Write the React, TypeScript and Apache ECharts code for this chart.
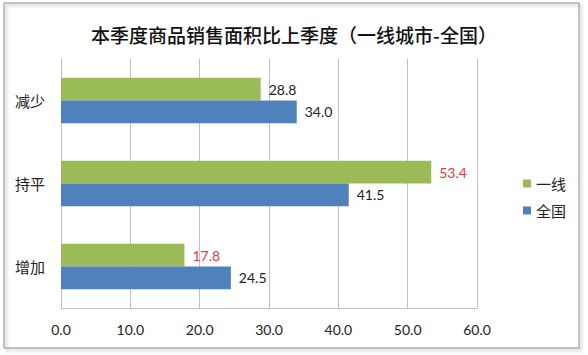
import React, { useEffect, useRef } from "react";
import * as echarts from "echarts";

const categories = ["减少", "持平", "增加"];
const seriesNames = ["一线", "全国"];
const firstTierValues = [28.8, 53.4, 17.8];
const nationalValues = [34.0, 41.5, 24.5];
const firstTierRed = [false, true, true];
const nationalRed = [false, false, false];
const xTicks = [0, 10, 20, 30, 40, 50, 60];

const FONT = 'Lato, "Noto Sans CJK SC", sans-serif';

export default function App() {
  const ref = useRef<HTMLDivElement>(null);
  useEffect(() => {
    document.body.style.margin = "0";
    const chart = echarts.init(ref.current!, null, { renderer: "svg" });
    const mk = (vals: number[], red: boolean[]) =>
      vals.map((v, i) => ({
        value: v,
        label: { color: red[i] ? "#e8393f" : "#222" },
      }));
    chart.setOption({
      animation: false,
      backgroundColor: "#fff",
      textStyle: { fontFamily: FONT },
      title: {
        text: "本季度商品销售面积比上季度（一线城市-全国）",
        left: "center",
        top: 20,
        textStyle: {
          fontFamily: '"Noto Sans CJK SC", sans-serif',
          fontSize: 19,
          fontWeight: 500,
          color: "#111",
        },
      },
      graphic: [
        {
          type: "rect",
          shape: { x: 4, y: 3, width: 575, height: 345 },
          style: {
            fill: "none",
            stroke: "#8a8a8a",
            lineWidth: 1,
            shadowBlur: 3,
            shadowColor: "rgba(0,0,0,0.35)",
            shadowOffsetX: 2,
            shadowOffsetY: 2,
          },
          silent: true,
          z: -1,
        },
      ],
      legend: {
        orient: "vertical",
        left: 518,
        top: 171,
        itemWidth: 8,
        itemHeight: 8,
        itemGap: 12,
        icon: "rect",
        data: seriesNames,
        textStyle: {
          fontFamily: '"Noto Sans CJK SC", sans-serif',
          fontSize: 15,
          color: "#222",
        },
      },
      grid: { left: 61, right: 111, top: 59, bottom: 47 },
      xAxis: {
        type: "value",
        min: xTicks[0],
        max: xTicks[xTicks.length - 1],
        interval: 10,
        axisLine: { show: true, lineStyle: { color: "#bfbfbf" } },
        axisTick: { show: false },
        splitLine: { show: true, lineStyle: { color: "#bfbfbf" } },
        axisLabel: {
          fontFamily: FONT,
          fontSize: 14,
          color: "#222",
          margin: 14,
          formatter: (v: number) => v.toFixed(1),
        },
      },
      yAxis: {
        type: "category",
        inverse: true,
        data: categories,
        axisLine: { show: true, lineStyle: { color: "#bfbfbf" } },
        axisTick: { show: false },
        axisLabel: {
          fontFamily: '"Noto Sans CJK SC", sans-serif',
          fontSize: 15,
          color: "#222",
          margin: 16,
        },
      },
      series: [
        {
          name: seriesNames[0],
          type: "bar",
          data: mk(firstTierValues, firstTierRed),
          itemStyle: { color: "#9bbb59" },
          barGap: "0%",
          barCategoryGap: "45%",
          label: {
            show: true,
            position: "right",
            distance: 8,
            fontFamily: FONT,
            fontSize: 14,
            formatter: (p: any) => Number(p.value).toFixed(1),
          },
        },
        {
          name: seriesNames[1],
          type: "bar",
          data: mk(nationalValues, nationalRed),
          itemStyle: { color: "#4f81bd" },
          barGap: "0%",
          barCategoryGap: "45%",
          label: {
            show: true,
            position: "right",
            distance: 8,
            fontFamily: FONT,
            fontSize: 14,
            formatter: (p: any) => Number(p.value).toFixed(1),
          },
        },
      ],
    });
    return () => chart.dispose();
  }, []);
  return <div ref={ref} style={{ width: 588, height: 355 }} />;
}
